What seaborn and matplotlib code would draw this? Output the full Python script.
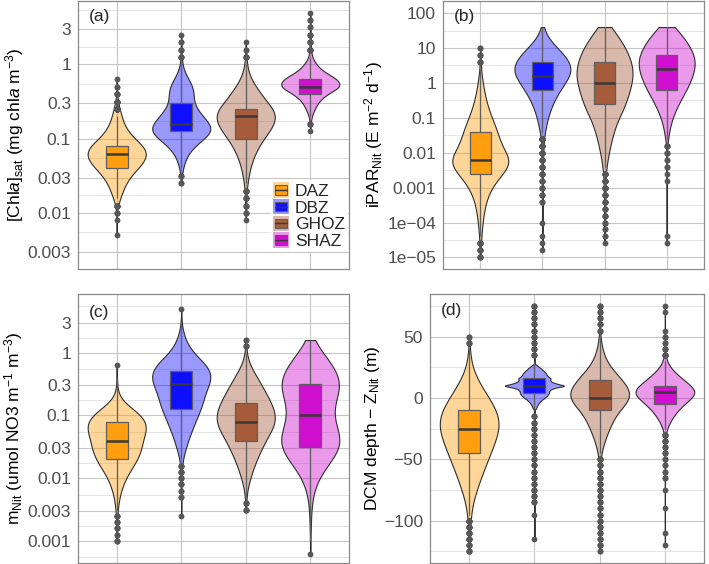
import numpy as np
import pandas as pd
import matplotlib
matplotlib.use("Agg")
import matplotlib.pyplot as plt
import seaborn as sns
from matplotlib.colors import to_rgba
from matplotlib.legend_handler import HandlerBase
from matplotlib.patches import Rectangle
from matplotlib.lines import Line2D
from matplotlib.ticker import FixedLocator, FixedFormatter, NullFormatter

sns.set_style("white")
plt.rcParams["font.family"] = ["Liberation Sans", "DejaVu Sans"]
plt.rcParams["mathtext.fontset"] = "custom"
plt.rcParams["mathtext.rm"] = "Liberation Sans"
plt.rcParams["mathtext.it"] = "Liberation Sans:italic"
plt.rcParams["axes.unicode_minus"] = True

ZONES = ["DAZ", "DBZ", "GHOZ", "SHAZ"]
BASE_COLORS = ["#FF9900", "#0000FF", "#A0522D", "#CD00CD"]
BOX_COLORS = ["#FF9F0F", "#0F0FFF", "#A65C3A", "#D00FD0"]

# Histograms: first bin centre, then counts per bin going upward.
# (a) [Chla]sat, log10 bins of 0.1
A_START = [-2.3, -1.6, -2.1, -0.9]
A_DAZ = [1, 0, 1, 3, 8, 28, 50, 73, 112, 168, 224, 246, 218, 140, 90, 56, 39, 25, 8, 4, 2, 1]
A_DBZ = [2, 3, 11, 25, 46, 88, 155, 230, 200, 150, 105, 80, 88, 85, 50, 20, 6, 4, 3, 2, 1]
A_GHOZ = [1, 3, 3, 4, 6, 12, 20, 30, 45, 65, 90, 125, 165, 200, 215, 200, 140, 110, 70, 36,
          18, 8, 4, 2, 1]
A_SHAZ = [1, 3, 8, 30, 55, 110, 215, 190, 90, 40, 10, 6, 4, 3, 2, 2, 1]

# (b) iPAR_Nit, log10 bins of 0.2
B_START = [-5.0, -4.8, -4.6, -4.6]
B_DAZ = [4, 5, 6, 10, 15, 21, 27, 39, 51, 72, 102, 144, 205, 265, 300, 225, 195, 170, 159, 132,
         105, 81, 60, 45, 33, 24, 12, 6, 4, 3, 2]
B_DBZ = [1, 1, 1, 0, 1, 0, 0, 2, 3, 3, 4, 5, 5, 6, 8, 9, 12, 21, 33, 45, 63, 87, 114, 150, 192,
         234, 258, 234, 189, 126, 66, 24, 9]
B_GHOZ = [1, 2, 2, 3, 4, 4, 5, 6, 7, 8, 10, 16, 26, 38, 50, 65, 80, 100, 120, 165, 186, 204, 225,
          240, 255, 252, 237, 216, 186, 150, 105, 60]
B_SHAZ = [1, 1, 0, 0, 0, 0, 0, 0, 0, 1, 1, 2, 2, 3, 4, 12, 21, 33, 51, 75, 105, 138, 174, 204,
          228, 246, 255, 240, 213, 174, 126, 75]

# (c) m_Nit, log10 bins of 0.1
C_START = [-3.0, -2.6, -2.5, -3.2]
C_DAZ = [3, 2, 3, 3, 4, 5, 10, 16, 24, 36, 52, 72, 96, 120, 136, 144, 148, 160, 176, 172, 145,
         95, 40, 10, 4, 2, 1, 0, 1]
C_DBZ = [1, 0, 0, 2, 2, 3, 3, 4, 4, 8, 18, 32, 40, 55, 70, 85, 100, 120, 130, 140, 145, 175, 185,
         185, 160, 110, 70, 40, 26, 14, 4, 1, 0, 1]
C_GHOZ = [3, 3, 4, 6, 16, 26, 36, 50, 64, 80, 96, 116, 136, 160, 176, 174, 164, 148, 128, 108,
          88, 68, 44, 24, 8, 5, 3, 2]
C_SHAZ = [1, 0, 1, 1, 2, 3, 3, 4, 6, 9, 14, 21, 33, 48, 66, 87, 108, 123, 126, 117, 105, 95, 90,
          90, 95, 105, 117, 126, 115, 105, 90, 70, 48, 28, 15]

# (d) DCM depth - Z_Nit, bins of 5 m (DBZ listed value by value)
D_START = [-125, None, -125, -120]
D_DAZ = [4, 5, 6, 6, 7, 8, 10, 14, 22, 32, 42, 54, 68, 80, 94, 108, 122, 136, 150, 162, 172, 176,
         170, 156, 136, 114, 90, 68, 48, 30, 18, 10, 6, 4, 3, 2]
D_DBZ_VALUES = [-115, -95, -85, -80, -75, -70, -65, -60, -55, -50, -45, -40, -35, -30, -25, -20,
                -15, -10, -8, -6, -4, -2, 0, 2, 4, 6, 8, 10, 12, 14, 16, 18, 20, 22, 24, 26,
                30, 35, 40, 45, 50, 55, 60, 65, 70, 75]
D_DBZ_COUNTS = [1, 1, 3, 3, 3, 3, 3, 3, 3, 3, 3, 3, 3, 3, 3, 3, 3, 3, 20, 32, 48, 72, 110, 140,
                160, 160, 200, 352, 220, 168, 180, 140, 128, 100, 72, 40, 3, 3, 3, 3, 3, 3, 3,
                3, 3, 3]
D_GHOZ = [2, 3, 3, 3, 3, 3, 3, 3, 3, 3, 4, 4, 4, 4, 4, 5, 14, 24, 39, 57, 78, 99, 120, 156, 210,
          258, 258, 216, 180, 135, 81, 54, 33, 21, 12, 4, 3, 3, 3, 3, 3]
D_SHAZ = [1, 0, 1, 0, 0, 0, 1, 0, 0, 1, 0, 2, 2, 2, 2, 3, 3, 4, 5, 15, 36, 66, 99, 150, 210, 264,
          204, 144, 84, 40, 12, 5, 3, 2, 2, 1, 0, 0, 1, 1]


def expand(start, step, counts, log):
    centres = np.round(start + step * np.arange(len(counts)), 3)
    vals = np.repeat(centres, counts)
    return 10.0 ** vals if log else vals.astype(float)


def draw_panel(ax, groups, log, bw_methods, gridsizes):
    for zone, base, box, vals, bw, gs in zip(ZONES, BASE_COLORS, BOX_COLORS, groups,
                                             bw_methods, gridsizes):
        df = pd.DataFrame({"zone": zone, "value": vals})
        n0 = len(ax.collections)
        sns.violinplot(data=df, x="zone", y="value", order=ZONES, color=base, saturation=1,
                       width=0.9, cut=0, inner=None, density_norm="width", bw_method=bw,
                       bw_adjust=1.0 if bw != "scott" else 1.3, gridsize=gs,
                       linewidth=0.8, linecolor="#2e2e2e", log_scale=log, ax=ax)
        for coll in ax.collections[n0:]:
            coll.set_facecolor(to_rgba(base, 0.4))
            coll.set_zorder(2)
        sns.boxplot(data=df, x="zone", y="value", order=ZONES, color=box, saturation=1,
                    width=0.34, linewidth=0.9, linecolor="#5e5e5e", showcaps=False,
                    flierprops=dict(marker="o", markersize=4.2, markerfacecolor="#575757",
                                    markeredgecolor="#575757", markeredgewidth=0),
                    medianprops=dict(color="#383838", linewidth=1.8),
                    log_scale=log, ax=ax)


def style_axis(ax, ylim, majors, labels, minors, ylabel, tag, tag_y):
    ax.set_ylim(*ylim)
    ax.set_xlim(-0.6, 3.6)
    ax.yaxis.set_major_locator(FixedLocator(majors))
    ax.yaxis.set_major_formatter(FixedFormatter(labels))
    ax.yaxis.set_minor_locator(FixedLocator(minors))
    ax.yaxis.set_minor_formatter(NullFormatter())
    ax.set_xticks(range(4))
    ax.set_xticklabels([])
    ax.set_xlabel("")
    ax.set_ylabel(ylabel, fontsize=12.5, color="black", labelpad=1.5)
    ax.tick_params(axis="x", length=0)
    ax.tick_params(axis="y", which="major", length=3.5, width=0.8, color="#8a8a8a",
                   labelsize=12.5, labelcolor="#4d4d4d", pad=1.5)
    ax.tick_params(axis="y", which="minor", length=0)
    ax.set_axisbelow(True)
    ax.grid(True, which="major", axis="both", color="#c6c6c6", linewidth=0.8)
    ax.grid(True, which="minor", axis="y", color="#dadada", linewidth=0.5)
    for sp in ax.spines.values():
        sp.set_visible(True)
        sp.set_color("#8a8a8a")
        sp.set_linewidth(0.9)
    ax.text(0.04, tag_y, tag, transform=ax.transAxes, fontsize=12.5, ha="left", va="center")


class ZoneKey:
    def __init__(self, light, dark):
        self.light = light
        self.dark = dark


class ZoneKeyHandler(HandlerBase):
    def create_artists(self, legend, orig_handle, xdescent, ydescent, width, height,
                       fontsize, trans):
        x0, y0 = -xdescent, -ydescent
        bg = Rectangle((x0, y0), width, height, facecolor=orig_handle.light,
                       edgecolor="none", transform=trans)
        bx = Rectangle((x0 + 0.12 * width, y0 + 0.2 * height), 0.76 * width, 0.6 * height,
                       facecolor=orig_handle.dark, edgecolor="#5e5e5e", linewidth=0.8,
                       transform=trans)
        med = Line2D([x0 + 0.12 * width, x0 + 0.88 * width], [y0 + 0.5 * height] * 2,
                     color="#383838", linewidth=1.0, transform=trans)
        return [bg, bx, med]


fig = plt.figure(figsize=(7.09, 5.64), dpi=100)
ax_a = fig.add_axes([0.1100, 0.5230, 0.3822, 0.4755])
ax_b = fig.add_axes([0.6248, 0.5230, 0.3681, 0.4755])
ax_c = fig.add_axes([0.1100, 0.0018, 0.3822, 0.4770])
ax_d = fig.add_axes([0.6065, 0.0018, 0.3865, 0.4770])

# (a)
groups_a = [expand(s, 0.1, c, True) for s, c in zip(A_START, [A_DAZ, A_DBZ, A_GHOZ, A_SHAZ])]
draw_panel(ax_a, groups_a, True, ["scott"] * 4, [200] * 4)
a_major = [0.003, 0.01, 0.03, 0.1, 0.3, 1, 3]
a_minor = [10 ** m for m in [-2.76, -2.26, -1.76, -1.26, -0.76, -0.26, 0.24, 0.74]]
style_axis(ax_a, (10 ** -2.755, 10 ** 0.857), a_major, [str(v) for v in a_major], a_minor,
           r"[Chl$\it{a}$]$_{\rm sat}$ (mg chl$\it{a}$ m$^{-3}$)", "(a)", 0.94)

handles = [ZoneKey(to_rgba(b, 0.4), c) for b, c in zip(BASE_COLORS, BOX_COLORS)]
leg = ax_a.legend(handles, ZONES, handler_map={ZoneKey: ZoneKeyHandler()},
                  loc="lower right", bbox_to_anchor=(0.995, 0.065), fontsize=12.5,
                  frameon=True, framealpha=1, edgecolor="none", fancybox=False,
                  handlelength=0.9, handleheight=1.0, handletextpad=0.35,
                  labelspacing=0.0, borderpad=0.15, borderaxespad=0.0)
leg.set_zorder(5)

# (b)
groups_b = [expand(s, 0.2, c, True) for s, c in zip(B_START, [B_DAZ, B_DBZ, B_GHOZ, B_SHAZ])]
draw_panel(ax_b, groups_b, True, ["scott"] * 4, [200] * 4)
b_major = [1e-5, 1e-4, 1e-3, 1e-2, 1e-1, 1, 10, 100]
b_labels = ["1e\u221205", "1e\u221204", "0.001", "0.01", "0.1", "1", "10", "100"]
b_minor = [10 ** (k + 0.5) for k in range(-6, 3)]
style_axis(ax_b, (10 ** -5.333, 10 ** 2.352), b_major, b_labels, b_minor,
           r"iPAR$_{\rm Nit}$ (E m$^{-2}$ d$^{-1}$)", "(b)", 0.94)

# (c)
groups_c = [expand(s, 0.1, c, True) for s, c in zip(C_START, [C_DAZ, C_DBZ, C_GHOZ, C_SHAZ])]
draw_panel(ax_c, groups_c, True, ["scott"] * 4, [200] * 4)
c_major = [0.001, 0.003, 0.01, 0.03, 0.1, 0.3, 1, 3]
c_minor = [10 ** m for m in [-3.26, -2.76, -2.26, -1.76, -1.26, -0.76, -0.26, 0.24, 0.74]]
style_axis(ax_c, (10 ** -3.35, 10 ** 0.934), c_major, [str(v) for v in c_major], c_minor,
           r"m$_{\rm Nit}$ (umol NO3 m$^{-1}$ m$^{-3}$)", "(c)", 0.93)

# (d)
groups_d = [expand(D_START[0], 5, D_DAZ, False),
            np.repeat(np.array(D_DBZ_VALUES, dtype=float), D_DBZ_COUNTS),
            expand(D_START[2], 5, D_GHOZ, False),
            expand(D_START[3], 5, D_SHAZ, False)]
draw_panel(ax_d, groups_d, False, ["scott", 0.08, "scott", "scott"], [200, 500, 200, 200])
d_major = [-100, -50, 0, 50]
style_axis(ax_d, (-134.5, 84.8), d_major, ["\u2212100", "\u221250", "0", "50"],
           [-125, -75, -25, 25, 75],
           "DCM depth \u2212 Z$_{\\rm Nit}$ (m)", "(d)", 0.938)

fig.savefig("out.png", dpi=100)
